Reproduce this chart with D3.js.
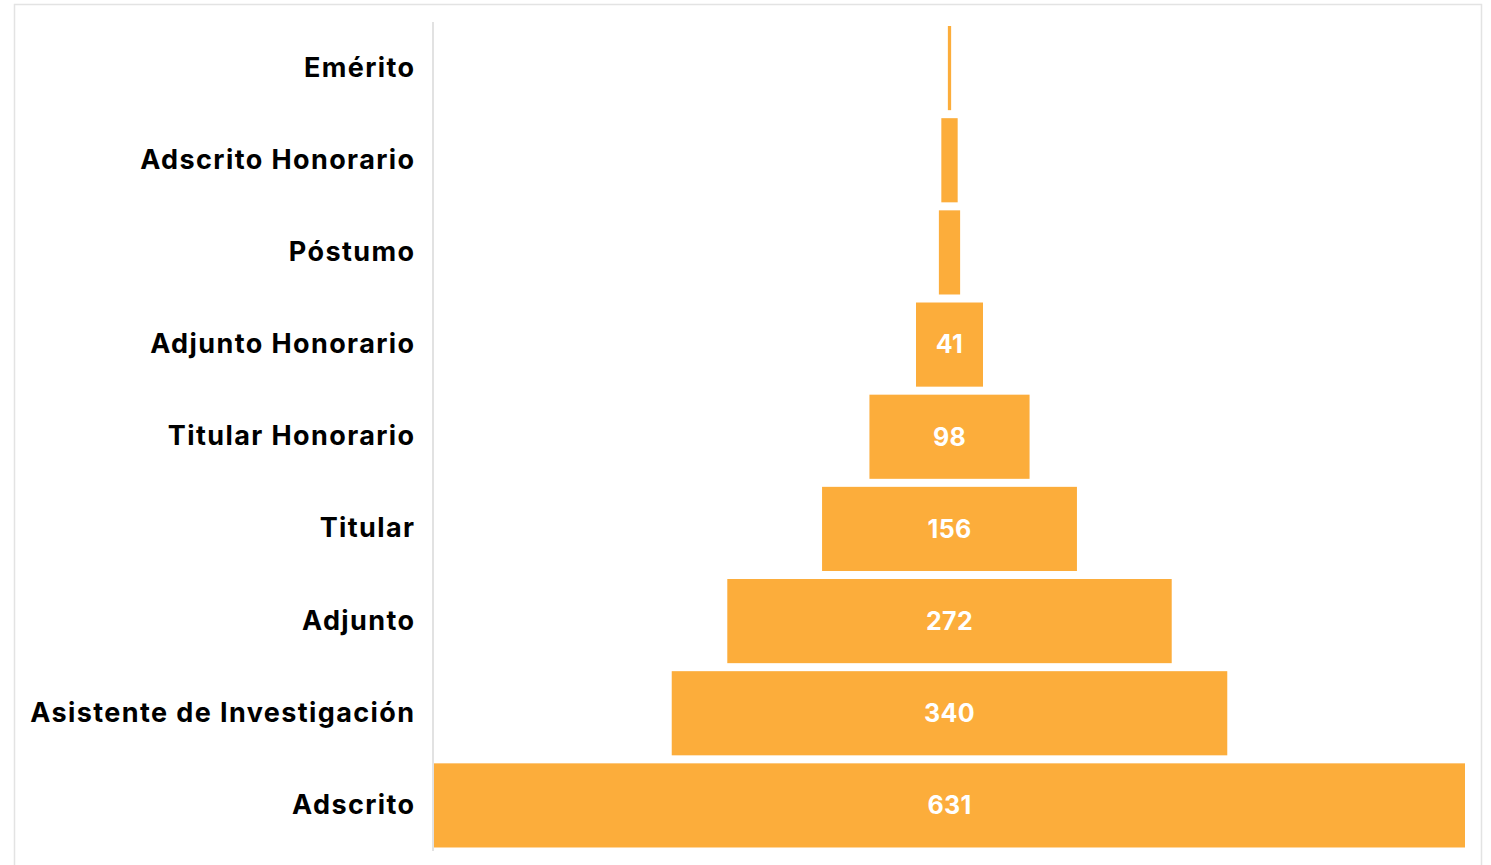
<!DOCTYPE html>
<html><head><meta charset="utf-8">
<script src="https://cdn.jsdelivr.net/npm/d3@7"></script>
<style>body{margin:0;background:#fff}svg{display:block}</style>
</head><body>
<script>
const categories = ["Emérito","Adscrito Honorario","Póstumo","Adjunto Honorario","Titular Honorario","Titular","Adjunto","Asistente de Investigación","Adscrito"];
const values = [2,10,13,41,98,156,272,340,631];
const showLabel = [false,false,false,true,true,true,true,true,true];

const W=1491,H=865;
const svg=d3.select("body").append("svg").attr("width",W).attr("height",H);
svg.append("rect").attr("x",14.5).attr("y",4.5).attr("width",1467).attr("height",870)
  .attr("fill","#fff").attr("stroke","#e3e3e3").attr("stroke-width",1.5);

const left=434,right=1465;
const y=d3.scaleBand().domain(categories).range([22,851.5]).paddingInner(8/92).paddingOuter(4/92);
const maxV=d3.max(values);
const w=d3.scaleLinear().domain([0,maxV]).range([0,right-left]);
const cx=(left+right)/2;

svg.append("line").attr("x1",433).attr("x2",433).attr("y1",22).attr("y2",851)
  .attr("stroke","#d9d9d9").attr("stroke-width",1.5);

const data=categories.map((c,i)=>({c,v:values[i],show:showLabel[i]}));
svg.selectAll("rect.bar").data(data).join("rect").attr("class","bar")
  .attr("x",d=>cx-w(d.v)/2).attr("width",d=>w(d.v))
  .attr("y",d=>y(d.c)).attr("height",y.bandwidth()).attr("fill","#fcad3b");

svg.selectAll("text.val").data(data.filter(d=>d.show)).join("text").attr("class","val")
  .attr("x",cx).attr("y",d=>y(d.c)+y.bandwidth()/2).attr("dy","0.35em")
  .attr("text-anchor","middle").attr("fill","#fff")
  .style("font-family","Inter, sans-serif").style("font-weight","700").style("font-size","25px")
  .style("letter-spacing","0.3px")
  .text(d=>d.v);

svg.selectAll("text.cat").data(data).join("text").attr("class","cat")
  .attr("x",415.5).attr("y",d=>y(d.c)+y.bandwidth()/2-1).attr("dy","0.35em")
  .attr("text-anchor","end").attr("fill","#000")
  .style("font-family","Inter, sans-serif").style("font-weight","700").style("font-size","27px")
  .style("letter-spacing","1.4px")
  .text(d=>d.c);
</script>
</body></html>
